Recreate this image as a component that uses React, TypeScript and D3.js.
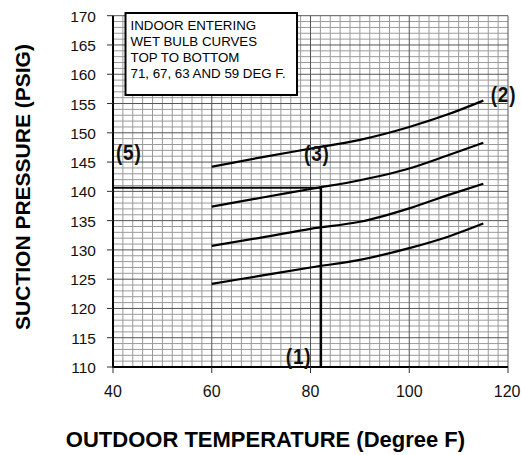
import React from "react";
import * as d3 from "d3";

const temps = [60, 70, 80, 90, 100, 108, 115];
const wb71 = [144.2, 145.8, 147.3, 148.8, 151.0, 153.2, 155.5];
const wb67 = [137.4, 138.9, 140.4, 141.9, 143.9, 146.2, 148.3];
const wb63 = [130.7, 132.1, 133.6, 134.8, 137.1, 139.4, 141.3];
const wb59 = [124.2, 125.6, 127.0, 128.3, 130.3, 132.3, 134.5];
const series = [wb71, wb67, wb63, wb59];

const xTicks = [40, 60, 80, 100, 120];
const yTicks = [110, 115, 120, 125, 130, 135, 140, 145, 150, 155, 160, 165, 170];

const refTemp = 82.1;
const refPressure = 140.6;

const noteLines = ["INDOOR ENTERING", "WET BULB CURVES", "TOP TO BOTTOM", "71, 67, 63 AND 59 DEG F."];

const markers = [
  { text: "(5)", t: 40.6, p: 145.4 },
  { text: "(3)", t: 78.7, p: 145.2 },
  { text: "(2)", t: 116.5, p: 155.3 },
  { text: "(1)", t: 75.0, p: 110.5 },
];

const W = 521, H = 455;
const L = 113, R = 508, T = 15.7, B = 367;

export default function App() {
  const x = d3.scaleLinear().domain([40, 120]).range([L, R]);
  const y = d3.scaleLinear().domain([110, 170]).range([B, T]);
  const line = d3
    .line<number>()
    .x((_, i) => x(temps[i]))
    .y((d) => y(d))
    .curve(d3.curveMonotoneX);

  const xMinor = d3.range(42, 120, 2).filter((v) => v % 20 !== 0);
  const yMinor = d3.range(111, 170, 1).filter((v) => v % 5 !== 0);
  const xMajor = [60, 80, 100, 120];
  const yMajor = d3.range(115, 171, 5);

  return (
    <svg width={W} height={H} style={{ position: "absolute", left: 0, top: 0, background: "#fff" }}
      fontFamily="'Liberation Sans', Arial, sans-serif">
      <rect x={0} y={0} width={W} height={H} fill="#fff" />
      {xMinor.map((v) => (
        <line key={"xm" + v} x1={x(v)} x2={x(v)} y1={T} y2={B} stroke="#9a9a9a" strokeWidth={1} />
      ))}
      {yMinor.map((v) => (
        <line key={"ym" + v} x1={L} x2={R} y1={y(v)} y2={y(v)} stroke="#9a9a9a" strokeWidth={1} />
      ))}
      {xMajor.map((v) => (
        <line key={"xM" + v} x1={x(v)} x2={x(v)} y1={T} y2={B} stroke="#555" strokeWidth={1} />
      ))}
      {yMajor.map((v) => (
        <line key={"yM" + v} x1={L} x2={R} y1={y(v)} y2={y(v)} stroke="#555" strokeWidth={1} />
      ))}
      <line x1={L} x2={L} y1={T} y2={B + 1} stroke="#000" strokeWidth={2} />
      <line x1={L - 1} x2={R} y1={B} y2={B} stroke="#000" strokeWidth={2} />
      {yTicks.map((v) => (
        <g key={"yt" + v}>
          <line x1={L - 6} x2={L} y1={y(v)} y2={y(v)} stroke="#333" strokeWidth={1} />
          <text x={96} y={y(v) + 6} textAnchor="end" fontSize={15.5} fill="#111">{v}</text>
        </g>
      ))}
      {xTicks.map((v) => (
        <g key={"xt" + v}>
          <line x1={x(v)} x2={x(v)} y1={B} y2={B + 6} stroke="#333" strokeWidth={1} />
          <text x={v === 120 ? W - 0.5 : x(v)} y={397} textAnchor={v === 120 ? "end" : "middle"} fontSize={16} fill="#111">{v}</text>
        </g>
      ))}
      {series.map((s, i) => (
        <path key={"s" + i} d={line(s) || ""} fill="none" stroke="#000" strokeWidth={2.2} />
      ))}
      <line x1={L} x2={x(refTemp)} y1={y(refPressure)} y2={y(refPressure)} stroke="#000" strokeWidth={2} />
      <line x1={x(refTemp)} x2={x(refTemp)} y1={y(refPressure)} y2={B} stroke="#000" strokeWidth={2.5} />
      <rect x={125.5} y={13} width={171.5} height={82} fill="#fff" stroke="#000" strokeWidth={2} />
      {noteLines.map((t, i) => (
        <text key={"n" + i} x={130.5} y={30 + i * 16.1} fontSize={13.3} fill="#000">{t}</text>
      ))}
      {markers.map((m) => (
        <text key={m.text} transform={`translate(${x(m.t)},${y(m.p)}) scale(1,1.12)`} fontSize={19} fontWeight="bold" letterSpacing={0.8} fill="#111">{m.text}</text>
      ))}
      <text transform={`translate(30,${187}) rotate(-90)`} textAnchor="middle" fontSize={21} fontWeight="bold" fill="#000">
        SUCTION PRESSURE (PSIG)
      </text>
      <text x={265.5} y={446.5} textAnchor="middle" fontSize={22} fontWeight="bold" fill="#000">
        OUTDOOR TEMPERATURE (Degree F)
      </text>
    </svg>
  );
}
